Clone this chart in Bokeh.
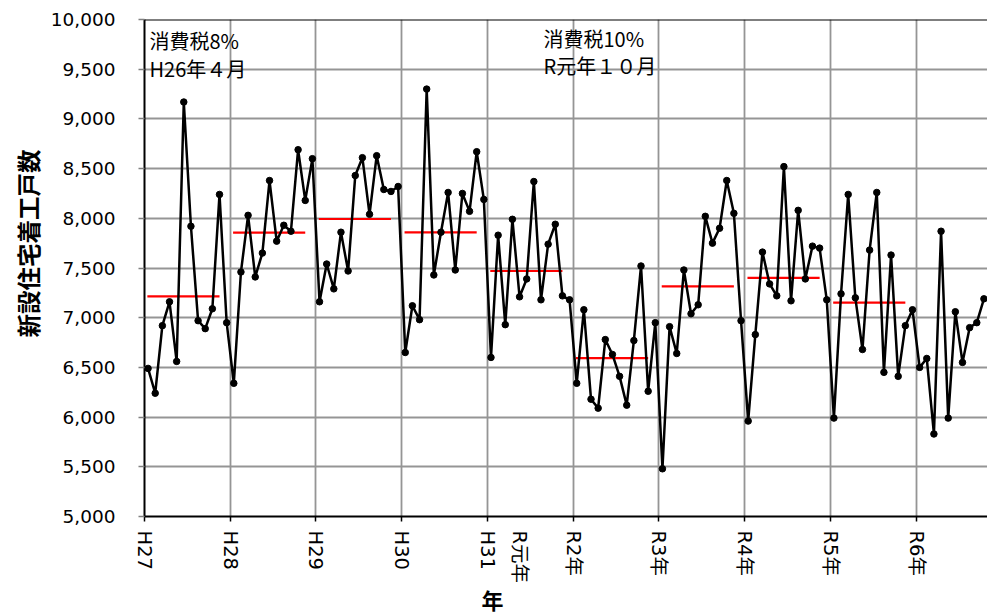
from bokeh.plotting import figure
from bokeh.models import Range1d, FixedTicker, NumeralTickFormatter, Span, Label, Title
from bokeh.embed import file_html
from bokeh.resources import INLINE

# ---- data (monthly new housing starts) ----
year_labels = ["H27", "H28", "H29", "H30", "H31", "R2年", "R3年", "R4年", "R5年", "R6年"]
extra_label = "R元年"          # second label under H31
h27 = [6490, 6240, 6920, 7160, 6560, 9170, 7920, 6970, 6890, 7090, 8240, 6950]
h28 = [6340, 7460, 8030, 7410, 7650, 8380, 7770, 7930, 7870, 8690, 8180, 8600]
h29 = [7160, 7540, 7290, 7860, 7470, 8430, 8610, 8040, 8630, 8290, 8270, 8320]
h30 = [6650, 7120, 6980, 9300, 7430, 7860, 8260, 7480, 8250, 8070, 8670, 8190]
r1 = [6600, 7830, 6930, 7990, 7210, 7390, 8370, 7180, 7740, 7940, 7220, 7180]
r2 = [6340, 7080, 6180, 6090, 6780, 6630, 6410, 6120, 6770, 7520, 6260, 6950]
r3 = [5480, 6910, 6640, 7480, 7040, 7130, 8020, 7750, 7900, 8380, 8050, 6970]
r4 = [5960, 6830, 7660, 7340, 7220, 8520, 7170, 8080, 7390, 7720, 7700, 7180]
r5 = [5990, 7240, 8240, 7200, 6680, 7680, 8260, 6450, 7630, 6410, 6920, 7080]
r6 = [6500, 6590, 5830, 7870, 5990, 7060, 6550, 6900, 6950, 7190]
annual_avg = [7214, 7856, 7993, 7859, 7470, 6594, 7316, 7400, 7151]

monthly = h27 + h28 + h29 + h30 + r1 + r2 + r3 + r4 + r5 + r6
n_months = 118

# ---- geometry (page pixels) ----
W, H = 987, 613
FL, FT, FH = 144, 19, 498
FW = W - FL
FB = FT + FH
Y0, Y1 = 5000, 10000


def dx(px):
    return (px - FL) / FW * n_months


def dy(py):
    return Y1 - (py - FT) / FH * (Y1 - Y0)


p = figure(width=W, height=H, output_backend="svg", toolbar_location=None,
           x_range=Range1d(0, n_months), y_range=Range1d(Y0, Y1),
           min_border_left=FL, min_border_right=0, min_border_top=FT,
           min_border_bottom=H - FB)
p.outline_line_color = None
p.background_fill_color = "white"
p.border_fill_color = "white"

tick_font = "DejaVu Sans, Noto Sans CJK JP"
jp = "Noto Sans CJK JP"

# x axis: year boundaries as (unlabelled) minor ticks, labels as invisible major ticks
year_ticks = list(range(0, n_months, 12))
extra_pos = dx(519)
p.xaxis.ticker = FixedTicker(ticks=year_ticks + [extra_pos], minor_ticks=year_ticks)
overrides = {t: lab for t, lab in zip(year_ticks, year_labels)}
overrides[extra_pos] = extra_label
p.xaxis.major_label_overrides = overrides
p.xaxis.major_label_orientation = "vertical"
p.xaxis.major_label_text_font = tick_font
p.xaxis.major_label_text_font_size = "19.5px"
p.xaxis.major_label_text_color = "black"
p.xaxis.major_label_standoff = 9
p.xaxis.axis_line_color = "black"
p.xaxis.axis_line_width = 2
p.xaxis.major_tick_line_color = None
p.xaxis.major_tick_out = 0
p.xaxis.major_tick_in = 0
p.xaxis.minor_tick_line_color = "black"
p.xaxis.minor_tick_line_width = 1.5
p.xaxis.minor_tick_out = 5
p.xaxis.minor_tick_in = 0

# y axis
y_ticks = list(range(Y0, Y1 + 1, 500))
p.yaxis.ticker = FixedTicker(ticks=y_ticks)
p.yaxis.formatter = NumeralTickFormatter(format="0,0")
p.yaxis.major_label_text_font = "DejaVu Sans"
p.yaxis.major_label_text_font_size = "18.5px"
p.yaxis.major_label_text_color = "black"
p.yaxis.major_label_standoff = 23
p.yaxis.axis_line_color = "black"
p.yaxis.axis_line_width = 2
p.yaxis.major_tick_line_color = "#808080"
p.yaxis.major_tick_line_width = 1.5
p.yaxis.major_tick_out = 6
p.yaxis.major_tick_in = 0
p.yaxis.minor_tick_line_color = None

# grids
p.xgrid.ticker = FixedTicker(ticks=year_ticks[1:])
p.ygrid.ticker = FixedTicker(ticks=y_ticks)
for g in (p.xgrid, p.ygrid):
    g.grid_line_color = "#959595"
    g.grid_line_width = 1.8

p.add_layout(Span(location=Y1, dimension="width", line_color="black", line_width=2))

# annual averages (red)
x0 = [12 * k + 0.4 for k in range(len(annual_avg))]
x1 = [12 * k + 10.5 for k in range(len(annual_avg))]
p.segment(x0=x0, y0=annual_avg, x1=x1, y1=annual_avg, line_color="#FF0000", line_width=2.2)

# monthly series
xs = [i + 0.5 for i in range(len(monthly))]
p.line(xs, monthly, line_color="black", line_width=2.5)
p.scatter(xs, monthly, size=6.5, fill_color="black", line_color="black")

# annotations inside the plot
for txt, px, py in [("消費税8%", 149, 40), ("H26年４月", 149, 68),
                    ("消費税10%", 543, 38), ("R元年１０月", 543, 65)]:
    p.add_layout(Label(x=dx(px), y=dy(py), text=txt, text_align="left",
                       text_baseline="middle", text_font=jp,
                       text_font_size="20px", text_color="black"))

# axis titles (side titles so they can be offset along the axis)
p.add_layout(Title(text="新設住宅着工戸数", align="left", offset=FB - 338, standoff=6,
                   text_font=jp, text_font_style="bold", text_font_size="23.5px",
                   text_color="black"), "left")
p.add_layout(Title(text="年", align="left", offset=481 - FL, standoff=0,
                   text_font="Liberation Sans, Noto Sans CJK JP", text_font_style="bold",
                   text_font_size="22px", text_color="black"), "below")

open("out.html", "w").write(file_html(p, INLINE))
